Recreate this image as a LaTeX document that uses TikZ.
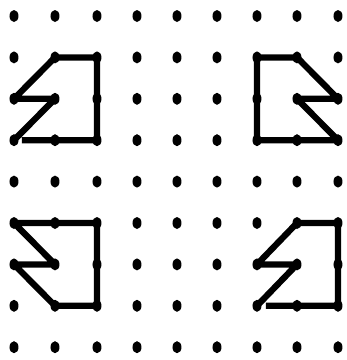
\documentclass[tikz,border=0pt]{standalone}
\usetikzlibrary{shapes.geometric,calc}
\begin{document}
\begin{tikzpicture}[x=1pt,y=-1pt,
  dot/.style={ellipse,fill=black,draw=none,inner sep=0pt,minimum width=9pt,minimum height=12pt},
  shapeline/.style={line width=6.3pt,line join=round,line cap=butt,black}]
\useasboundingbox (0,0) rectangle (347,360);
\foreach \x [count=\i from 0] in {14,55,97,137,177,217,257,297,338}
  \foreach \j in {0,...,8}
    \node[dot] (d\i-\j) at (\x,{16+41.4*\j}) {};
\coordinate (g1) at ($(d0-3.center)+(8,0)$);
\coordinate (g2) at ($(d6-7.center)+(9,0)$);
% top-left
\draw[shapeline] (g1) -- (d2-3.center) -- (d2-1.center) -- (d1-1.center) -- (d0-2.center) -- (d1-2.center) -- (d0-3.center);
% top-right
\draw[shapeline] (d6-1.center) -- (d7-1.center) -- (d8-2.center) -- (d7-2.center) -- (d8-3.center) -- (d6-3.center) -- cycle;
% bottom-left
\draw[shapeline] (d0-5.center) -- (d2-5.center) -- (d2-7.center) -- (d1-7.center) -- (d0-6.center) -- (d1-6.center) -- cycle;
% bottom-right
\draw[shapeline] (g2) -- (d8-7.center) -- (d8-5.center) -- (d7-5.center) -- (d6-6.center) -- (d7-6.center) -- (d6-7.center);
\end{tikzpicture}
\end{document}
